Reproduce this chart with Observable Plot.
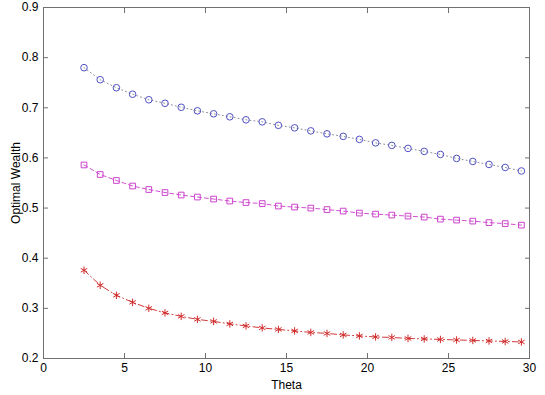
<!DOCTYPE html>
<html>
<head>
<meta charset="utf-8">
<script src="https://cdn.jsdelivr.net/npm/d3@7"></script>
<script src="https://cdn.jsdelivr.net/npm/@observablehq/plot@0.6"></script>
<style>
  html, body { margin: 0; padding: 0; background: #fff; }
  #chart svg { display: block; }
</style>
</head>
<body>
<div id="chart"></div>
<script>
const theta = [2.5, 3.5, 4.5, 5.5, 6.5, 7.5, 8.5, 9.5, 10.5, 11.5, 12.5, 13.5, 14.5, 15.5,
  16.5, 17.5, 18.5, 19.5, 20.5, 21.5, 22.5, 23.5, 24.5, 25.5, 26.5, 27.5, 28.5, 29.5];

const seriesCircle = [0.780, 0.756, 0.740, 0.727, 0.716, 0.709, 0.701, 0.694, 0.688, 0.682,
  0.676, 0.672, 0.665, 0.660, 0.654, 0.648, 0.643, 0.637, 0.630, 0.625, 0.619, 0.613,
  0.607, 0.599, 0.593, 0.587, 0.581, 0.574];

const seriesSquare = [0.586, 0.567, 0.555, 0.544, 0.537, 0.531, 0.526, 0.522, 0.518, 0.514,
  0.511, 0.509, 0.504, 0.502, 0.500, 0.497, 0.494, 0.490, 0.488, 0.486, 0.484, 0.482,
  0.478, 0.476, 0.474, 0.471, 0.469, 0.466];

const seriesStar = [0.376, 0.346, 0.326, 0.312, 0.300, 0.291, 0.284, 0.278, 0.274, 0.269,
  0.265, 0.261, 0.258, 0.255, 0.252, 0.250, 0.247, 0.245, 0.243, 0.242, 0.240, 0.239,
  0.238, 0.237, 0.236, 0.235, 0.234, 0.233];

const xTicks = [0, 5, 10, 15, 20, 25, 30];
const yTicks = [0.2, 0.3, 0.4, 0.5, 0.6, 0.7, 0.8, 0.9];

const mk = (vals) => theta.map((t, i) => ({theta: t, value: vals[i]}));
const dCircle = mk(seriesCircle);
const dSquare = mk(seriesSquare);
const dStar = mk(seriesStar);

const axisColor = "#707070";
const fmtY = d3.format(".1f");

const chart = Plot.plot({
  width: 545,
  height: 395,
  marginLeft: 43,
  marginRight: 16,
  marginTop: 7,
  marginBottom: 37,
  style: {fontFamily: "'Liberation Sans', Arial, sans-serif", fontSize: "12px", color: "#000", background: "#fff"},
  x: {domain: [0, 30]},
  y: {domain: [0.2, 0.9]},
  marks: [
    Plot.frame({stroke: axisColor}),
    Plot.axisX(xTicks, {anchor: "bottom", tickSize: 0, tickPadding: 5, fill: "#000", label: "Theta", labelAnchor: "center", labelOffset: 30, labelArrow: false}),
    Plot.axisX(xTicks, {anchor: "bottom", tickSize: -5, tickFormat: () => "", stroke: axisColor, label: null}),
    Plot.axisX(xTicks, {anchor: "top", tickSize: -5, tickFormat: () => "", stroke: axisColor, label: null}),
    Plot.axisY(yTicks, {anchor: "left", tickSize: 0, tickPadding: 5, tickFormat: fmtY, fill: "#000", label: "Optimal Wealth", labelAnchor: "center", labelOffset: 32, labelArrow: false}),
    Plot.axisY(yTicks, {anchor: "left", tickSize: -5, tickFormat: () => "", stroke: axisColor, label: null}),
    Plot.axisY(yTicks, {anchor: "right", tickSize: -5, tickFormat: () => "", stroke: axisColor, label: null}),
    Plot.line(dCircle, {x: "theta", y: "value", stroke: "#8a8a9a", strokeWidth: 1, strokeDasharray: "1,3"}),
    Plot.line(dSquare, {x: "theta", y: "value", stroke: "#d050d0", strokeWidth: 1, strokeDasharray: "4,3"}),
    Plot.line(dStar, {x: "theta", y: "value", stroke: "#d03a3a", strokeWidth: 1, strokeDasharray: "6,3,1,3"}),
    Plot.dot(dCircle, {x: "theta", y: "value", symbol: "circle", r: 3.3, stroke: "#5050c4", fill: "none", strokeWidth: 1}),
    Plot.dot(dSquare, {x: "theta", y: "value", symbol: "square", r: 3.2, stroke: "#cc44cc", fill: "none", strokeWidth: 1}),
    Plot.dot(dStar, {x: "theta", y: "value", symbol: "asterisk", r: 3.5, stroke: "#d02a2a", fill: "none", strokeWidth: 1})
  ]
});

document.getElementById("chart").appendChild(chart);
</script>
</body>
</html>
